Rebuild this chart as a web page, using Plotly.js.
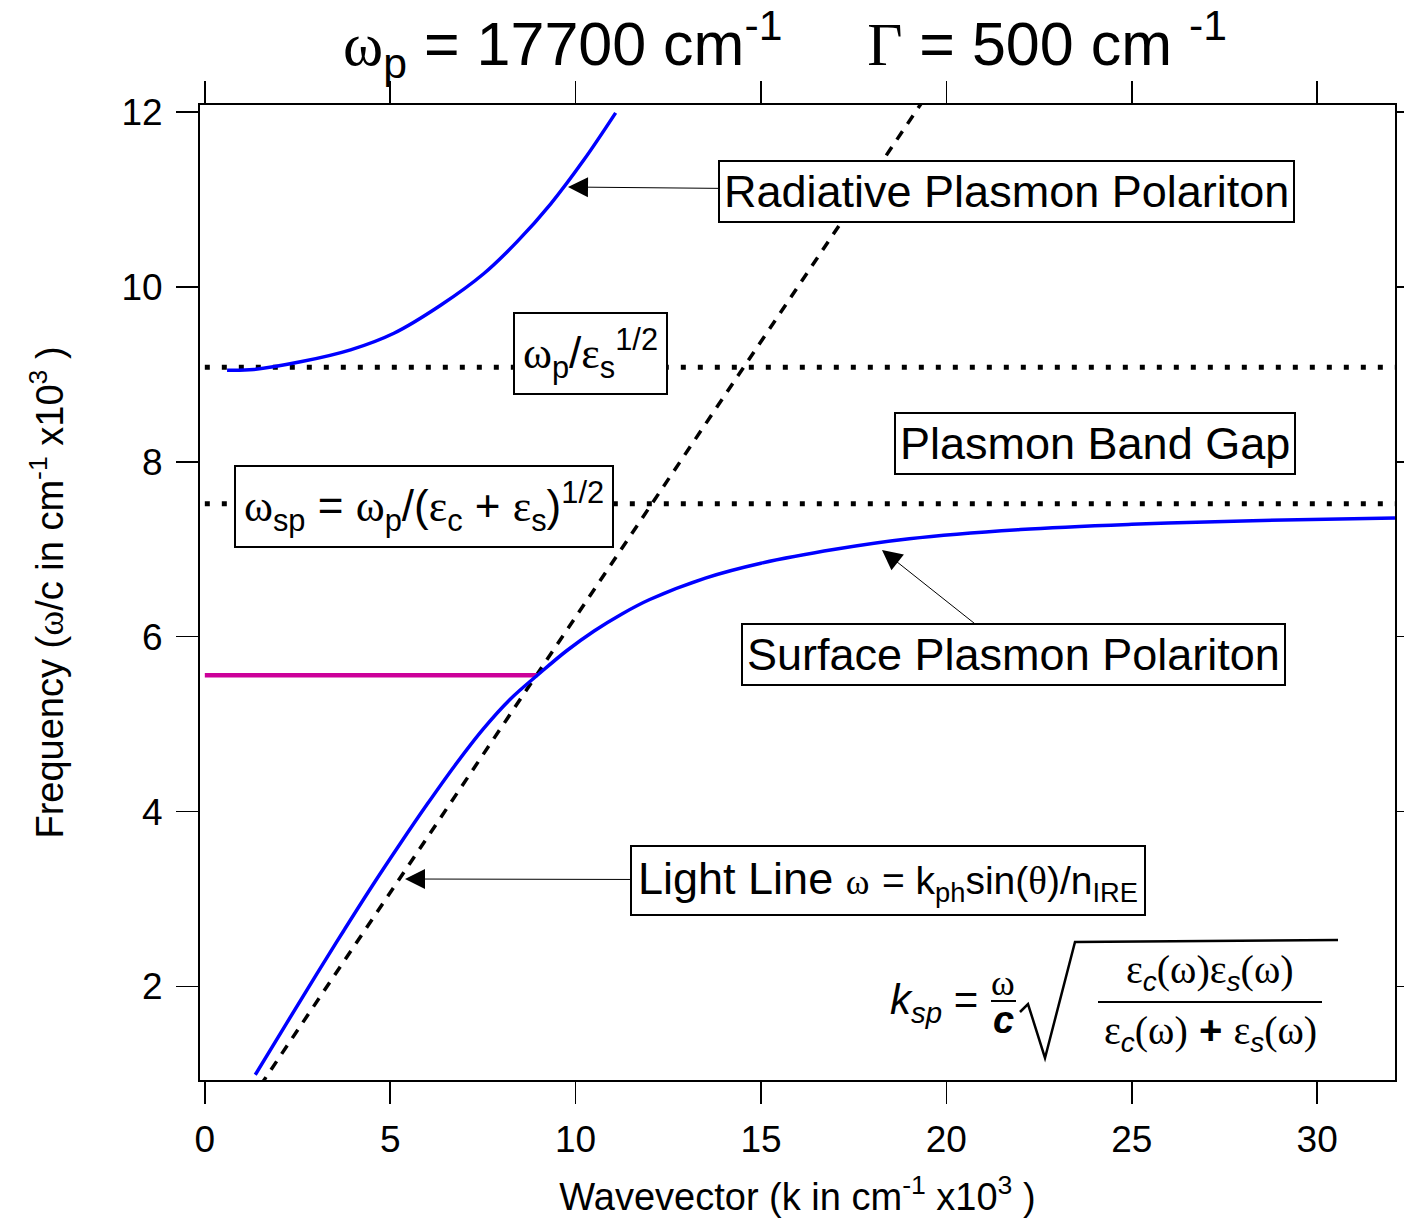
<!DOCTYPE html>
<html><head><meta charset="utf-8">
<script src="https://cdn.plot.ly/plotly-3.0.1.min.js"></script>
<style>body{margin:0;background:#fff}#chart{width:1404px;height:1218px}</style>
</head><body><div id="chart"></div>
<script>
// ---- data (wavevector k and frequency w/c, both in cm^-1 x10^3) ----
const radiativeK = [0.6, 1.32, 2.58, 3.93, 5.1, 6.36, 7.52, 8.43, 9.33, 10.22, 11.08];
const radiativeW = [9.048, 9.056, 9.143, 9.28, 9.47, 9.79, 10.15, 10.52, 10.95, 11.45, 11.99];
const surfaceK = [1.36, 2.2, 3.0, 3.75, 4.5, 5.25, 6.0, 6.75, 7.5, 8.25, 9.0, 9.75, 10.5, 11.25, 12.0, 13.5, 15.0, 17.0, 19.0, 22.0, 25.0, 28.0, 32.1];
const surfaceW = [0.99, 1.575, 2.13, 2.64, 3.14, 3.62, 4.085, 4.53, 4.94, 5.29, 5.57, 5.836, 6.065, 6.26, 6.425, 6.67, 6.84, 7.0, 7.12, 7.225, 7.285, 7.324, 7.357];
const lightLineK = [1.5, 19.5];
const lightLineW = [0.868, 12.21];
const upperEdgeK = [0, 32.1];
const upperEdgeW = [9.08, 9.08];
const lowerEdgeK = [0, 32.1];
const lowerEdgeW = [7.52, 7.52];
const couplingK = [0, 8.97];
const couplingW = [5.56, 5.56];
const xTickVals = [0, 5, 10, 15, 20, 25, 30];
const yTickVals = [2, 4, 6, 8, 10, 12];

// ---- layout helpers (pixel -> paper) ----
const ML = 200, MR = 9, MT = 105, MB = 138, FW = 1404, FH = 1218;
const PW = FW - ML - MR, PH = FH - MT - MB;
const px = x => (x - ML) / PW;
const py = y => (FH - MB - y) / PH;
const SER = s => '<span style="font-family:\'Liberation Serif\'">' + s + '</span>';
const FONT = 'Liberation Sans, Arial, sans-serif';

const traces = [
  {x: upperEdgeK, y: upperEdgeW, mode: 'lines', line: {color: '#000', width: 5, dash: '5px,12px'}},
  {x: lowerEdgeK, y: lowerEdgeW, mode: 'lines', line: {color: '#000', width: 5, dash: '5px,12px'}},
  {x: lightLineK, y: lightLineW, mode: 'lines', line: {color: '#000', width: 3.5, dash: '10px,9px'}},
  {x: couplingK, y: couplingW, mode: 'lines', line: {color: '#CC0099', width: 4.5}},
  {x: radiativeK, y: radiativeW, mode: 'lines', line: {color: '#0000FF', width: 3.5, shape: 'spline'}},
  {x: surfaceK, y: surfaceW, mode: 'lines', line: {color: '#0000FF', width: 3.5, shape: 'spline'}}
];

const boxAnn = {xref: 'paper', yref: 'paper', xanchor: 'center', yanchor: 'middle', bgcolor: '#fff', bordercolor: '#000', borderwidth: 2,
  borderpad: 4, font: {family: FONT, size: 45, color: '#000'}, showarrow: false};
const arrowOpts = {showarrow: true, arrowhead: 2, arrowsize: 4, arrowwidth: 1, arrowcolor: '#000', standoff: 0, axref: 'pixel', ayref: 'pixel'};
const plain = {xref: 'paper', yref: 'paper', showarrow: false, xanchor: 'center', yanchor: 'middle'};

const annotations = [
  Object.assign({}, boxAnn, arrowOpts, {
    text: 'Radiative Plasmon Polariton', x: px(568), y: py(187), ax: 1006 - 568, ay: 191 - 187}),
  Object.assign({}, boxAnn, {
    text: SER('ω') + '<sub>p</sub>/' + SER('ε') + '<sub>s</sub><sup>1/2</sup>',
    x: px(590), y: py(353), borderpad: 8, font: {family: FONT, size: 44, color: '#000'}}),
  Object.assign({}, boxAnn, {
    text: 'Plasmon Band Gap', x: px(1095), y: py(443)}),
  Object.assign({}, boxAnn, {
    text: SER('ω') + '<sub>sp</sub> = ' + SER('ω') + '<sub>p</sub>/(' + SER('ε') + '<sub>c</sub> + ' + SER('ε') + '<sub>s</sub>)<sup>1/2</sup>',
    x: px(424), y: py(506), borderpad: 8, font: {family: FONT, size: 44, color: '#000'}}),
  Object.assign({}, boxAnn, arrowOpts, {
    text: 'Surface Plasmon Polariton', x: px(882), y: py(550), ax: 1013 - 882, ay: 654 - 550}),
  Object.assign({}, boxAnn, arrowOpts, {
    text: 'Light Line <span style="font-size:36px">' + SER('ω') + '</span> <span style="font-size:39px">= k<sub>ph</sub>sin(' + SER('θ') + ')/n<sub>IRE</sub></span>',
    x: px(405), y: py(879), ax: 888 - 405, ay: 880 - 879, borderpad: 6}),
  // dispersion relation formula
  Object.assign({}, plain, {xanchor: 'left', x: px(888), y: py(1002),
   text: '<i>k</i><sub><i>sp</i></sub> =', font: {family: FONT, size: 42, color: '#000'}}),
  Object.assign({}, plain, {x: px(1003), y: py(983),
   text: SER('ω'), font: {family: FONT, size: 36, color: '#000'}}),
  Object.assign({}, plain, {x: px(1003), y: py(1020),
   text: '<b><i>c</i></b>', font: {family: FONT, size: 38, color: '#000'}}),
  Object.assign({}, plain, {x: px(1210), y: py(972),
   text: SER('ε') + '<sub><i>c</i></sub>' + SER('(ω)ε') + '<sub><i>s</i></sub>' + SER('(ω)'), font: {family: FONT, size: 40, color: '#000'}}),
  Object.assign({}, plain, {x: px(1210), y: py(1033),
   text: SER('ε') + '<sub><i>c</i></sub>' + SER('(ω)') + ' <b>+</b> ' + SER('ε') + '<sub><i>s</i></sub>' + SER('(ω)'), font: {family: FONT, size: 40, color: '#000'}})
];

const P = (x, y) => px(x) + ',' + py(y);
const shapes = [
  {type: 'line', xref: 'paper', yref: 'paper', x0: px(991), x1: px(1016), y0: py(1001), y1: py(1001), line: {color: '#000', width: 2}},
  {type: 'path', xref: 'paper', yref: 'paper', path: 'M' + P(1020, 1012) + 'L' + P(1028, 1004) + 'L' + P(1045, 1058) + 'L' + P(1075, 942) + 'L' + P(1338, 940),
   line: {color: '#000', width: 2.5}},
  {type: 'line', xref: 'paper', yref: 'paper', x0: px(1098), x1: px(1322), y0: py(1002), y1: py(1002), line: {color: '#000', width: 2}}
];

const axisCommon = {showline: true, linecolor: '#000', linewidth: 2, mirror: 'ticks', ticks: 'outside',
  ticklen: 22, tickwidth: 1.5, tickcolor: '#000', showgrid: false, zeroline: false,
  tickfont: {family: FONT, size: 37, color: '#000'}};

const layout = {
  width: FW, height: FH, margin: {l: ML, r: MR, t: MT, b: MB},
  paper_bgcolor: '#fff', plot_bgcolor: '#fff', showlegend: false,
  font: {family: FONT, color: '#000'},
  title: {text: SER('ω') + '<sub>p</sub> = 17700 cm<sup>-1</sup>     ' + SER('Γ') + ' = 500 cm <sup>-1</sup>',
    font: {family: FONT, size: 61, color: '#000'}, xref: 'paper', x: px(785), xanchor: 'center',
    yref: 'container', y: 1 - 44 / FH, yanchor: 'middle'},
  xaxis: Object.assign({}, axisCommon, {range: [-0.13, 32.1], tickvals: xTickVals, ticktext: xTickVals.map(String),
    ticklabelstandoff: 4,
    title: {text: 'Wavevector (k in cm<sup>-1</sup> x10<sup>3</sup> )', font: {family: FONT, size: 38, color: '#000'}, standoff: 25}}),
  yaxis: Object.assign({}, axisCommon, {range: [0.93, 12.08], tickvals: yTickVals, ticktext: yTickVals.map(String),
    ticklabelstandoff: 6,
    title: {text: 'Frequency (' + SER('ω') + '/c in cm<sup>-1</sup> x10<sup>3</sup> )', font: {family: FONT, size: 38, color: '#000'}, standoff: 46}}),
  annotations: annotations, shapes: shapes
};

Plotly.newPlot('chart', traces, layout, {staticPlot: true, displayModeBar: false});
</script></body></html>
